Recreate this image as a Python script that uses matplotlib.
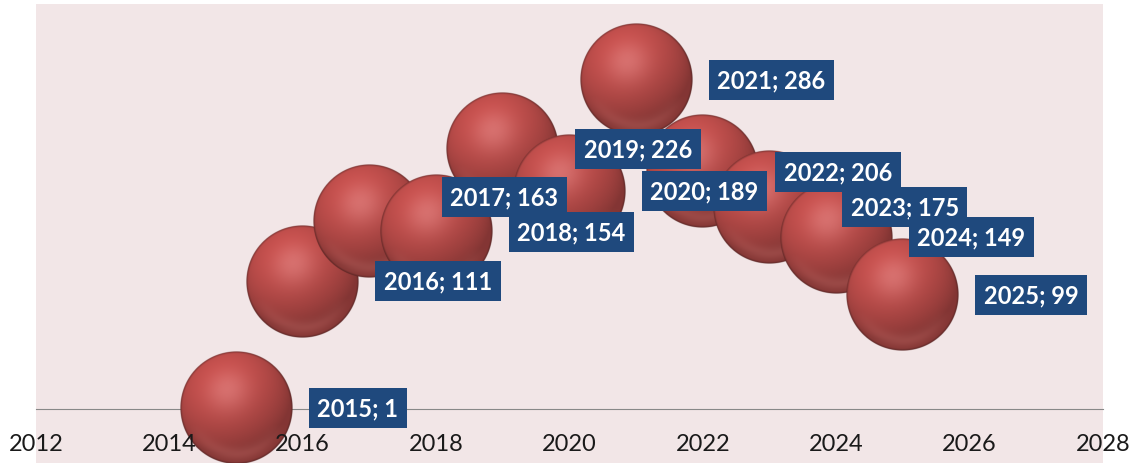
import numpy as np
import matplotlib.pyplot as plt

plt.rcParams['font.family'] = ['Lato', 'DejaVu Sans']

# data
years = [2015, 2016, 2017, 2018, 2019, 2020, 2021, 2022, 2023, 2024, 2025]
values = [1, 111, 163, 154, 226, 189, 286, 206, 175, 149, 99]
x_ticks = [2012, 2014, 2016, 2018, 2020, 2022, 2024, 2026, 2028]

# labels that were nudged by hand in the original (pixels up)
label_nudge = {2017: 24}


def sphere_image(n=256, rgb=(0.76, 0.31, 0.30)):
    # shaded ball, like the excel 3D bubble effect
    t = np.linspace(-1, 1, n)
    u, v = np.meshgrid(t, -t)
    r = np.sqrt(u**2 + v**2)
    nz = np.sqrt(np.clip(1 - r**2, 0, 1))
    light = np.array([-0.3, 0.6, 0.75])
    light = light / np.linalg.norm(light)
    diff = np.clip(u * light[0] + v * light[1] + nz * light[2], 0, 1)
    half = light + np.array([0, 0, 1.0])
    half = half / np.linalg.norm(half)
    spec = np.clip(u * half[0] + v * half[1] + nz * half[2], 0, 1) ** 14
    img = np.array(rgb) * (0.68 + 0.36 * diff)[..., None]
    # reflected light near the lower rim
    band = np.exp(-((r - 0.8) / 0.12) ** 2) * np.clip(-v - 0.3, 0, 1)
    img = img + (np.array([0.86, 0.5, 0.48]) - img) * (0.5 * band)[..., None]
    img = img * (1 - 0.3 * spec[..., None]) + np.array([1.0, 0.72, 0.72]) * 0.3 * spec[..., None]
    edge = np.clip((r - 0.96) / 0.04, 0, 1)
    img = img * (1 - 0.35 * edge[..., None])
    alpha = np.clip((1 - r) * n / 2, 0, 1)
    return np.dstack([np.clip(img, 0, 1), alpha])


fig = plt.figure(figsize=(11.33, 4.64), dpi=100)
ax = fig.add_axes([36 / 1133, 0, 1067 / 1133, 459 / 464])
ax.set_facecolor('#f2e6e7')
ax.set_xlim(2012, 2028)
ax.set_ylim(-46.9, 351.6)

# bubble radius in pixels -> data units
r_px = 56.5
w_px = fig.get_figwidth() * fig.dpi * ax.get_position().width
h_px = fig.get_figheight() * fig.dpi * ax.get_position().height
rx = r_px * (2028 - 2012) / w_px
ry = r_px * (351.6 + 46.9) / h_px

ball = sphere_image()
for i, (yr, val) in enumerate(zip(years, values)):
    ax.imshow(ball, extent=[yr - rx, yr + rx, val - ry, val + ry],
              aspect='auto', interpolation='antialiased', zorder=3 + i * 0.01,
              clip_on=False)
    ax.annotate(f'{yr}; {val}', (yr, val),
                xytext=(81 * 0.72, label_nudge.get(yr, 0) * 0.72),
                textcoords='offset points', ha='left', va='center',
                color='white', fontsize=17, fontweight='bold',
                bbox=dict(boxstyle='square,pad=0.36', fc='#1f497d', ec='none'),
                zorder=10)

ax.set_xlim(2012, 2028)
ax.set_ylim(-46.9, 351.6)

for s in ['left', 'right', 'top']:
    ax.spines[s].set_visible(False)
ax.spines['bottom'].set_position(('data', 0))
ax.spines['bottom'].set_color('#888888')
ax.spines['bottom'].set_zorder(1)
ax.set_yticks([])
ax.set_xticks(x_ticks)
ax.tick_params(axis='x', length=0, pad=17, labelsize=17, labelcolor='#1a1a1a')
ax.xaxis.set_zorder(20)

plt.savefig('out.png', dpi=100)
